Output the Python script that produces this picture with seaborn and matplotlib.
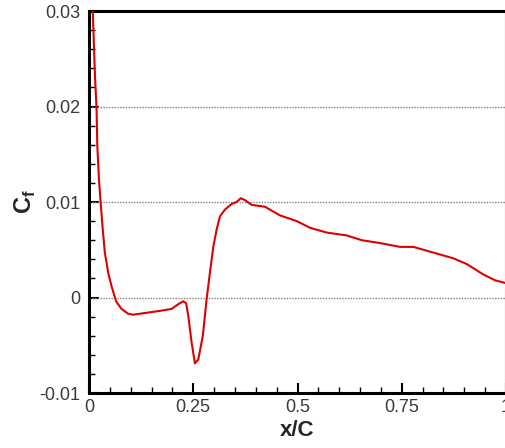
import matplotlib
matplotlib.use("Agg")
import matplotlib.pyplot as plt
from matplotlib.ticker import MultipleLocator, FixedLocator
import seaborn as sns
import pandas as pd

x_c = [0.006, 0.009, 0.0144, 0.018, 0.020, 0.024, 0.028, 0.033, 0.038, 0.046, 0.054,
       0.065, 0.078, 0.094, 0.106, 0.138, 0.170, 0.198, 0.214, 0.226, 0.233, 0.238,
       0.246, 0.254, 0.262, 0.273, 0.282, 0.290, 0.298, 0.306, 0.314, 0.326, 0.342,
       0.354, 0.364, 0.374, 0.390, 0.422, 0.458, 0.498, 0.530, 0.570, 0.618, 0.654,
       0.698, 0.746, 0.778, 0.826, 0.874, 0.906, 0.946, 0.974, 1.000]
cf = [0.036, 0.0300, 0.0231, 0.0199, 0.0158, 0.0123, 0.0099, 0.0071, 0.0047, 0.0026, 0.0012,
      -0.0004, -0.0012, -0.0017, -0.0018, -0.0016, -0.0014, -0.0012, -0.0007, -0.0004, -0.0006, -0.0019,
      -0.0047, -0.0069, -0.0065, -0.0040, -0.0002, 0.0026, 0.0053, 0.0071, 0.0085, 0.0092, 0.0098,
      0.0100, 0.0104, 0.0102, 0.0097, 0.0095, 0.0086, 0.0080, 0.0073, 0.0068, 0.0065, 0.0060,
      0.0057, 0.0053, 0.0053, 0.0047, 0.0041, 0.0035, 0.0024, 0.0018, 0.0015]

x_ticks = [0, 0.25, 0.5, 0.75, 1.0]
x_tick_labels = ["0", "0.25", "0.5", "0.75", "1"]
y_ticks = [-0.01, 0, 0.01, 0.02, 0.03]
y_tick_labels = ["-0.01", "0", "0.01", "0.02", "0.03"]
grid_levels = [0, 0.01, 0.02]

sns.set_style("white")
plt.rcParams["font.family"] = ["Liberation Sans", "DejaVu Sans"]

df = pd.DataFrame({"x/C": x_c, "Cf": cf})

fig = plt.figure(figsize=(5.06, 4.48), dpi=100)
ax = fig.add_axes([89 / 506, 1 - 393 / 448, 1 - 89 / 506, (393 - 11) / 448])

for g in grid_levels:
    ax.axhline(g, color="#808080", lw=1.0, ls=(0, (1, 1)), zorder=1)

sns.lineplot(data=df, x="x/C", y="Cf", sort=False, ax=ax, color="#dd0000",
             lw=1.5, zorder=3)

ax.set_xlim(0, 1)
ax.set_ylim(-0.01, 0.03)
ax.xaxis.set_major_locator(FixedLocator(x_ticks))
ax.set_xticklabels(x_tick_labels)
ax.yaxis.set_major_locator(FixedLocator(y_ticks))
ax.set_yticklabels(y_tick_labels)
ax.xaxis.set_minor_locator(MultipleLocator(0.05))
ax.yaxis.set_minor_locator(MultipleLocator(0.002))

ax.tick_params(which="major", direction="in", length=7, width=1.5, colors="black",
               labelcolor="#3a3a3a", labelsize=13)
ax.tick_params(which="minor", direction="in", length=4, width=1.0, colors="black")
ax.tick_params(axis="y", which="both", left=True, right=False, pad=6)
ax.tick_params(axis="x", which="both", bottom=True, top=False, pad=4)

for side in ["left", "bottom", "top", "right"]:
    ax.spines[side].set_linewidth(2.2)
    ax.spines[side].set_color("black")

ax.set_xlabel("x/C", fontsize=16, fontweight="bold", labelpad=3)
ax.set_ylabel(r"C$_\mathregular{f}$", fontsize=17, fontweight="bold", labelpad=1)

fig.savefig("out.png", dpi=100)
